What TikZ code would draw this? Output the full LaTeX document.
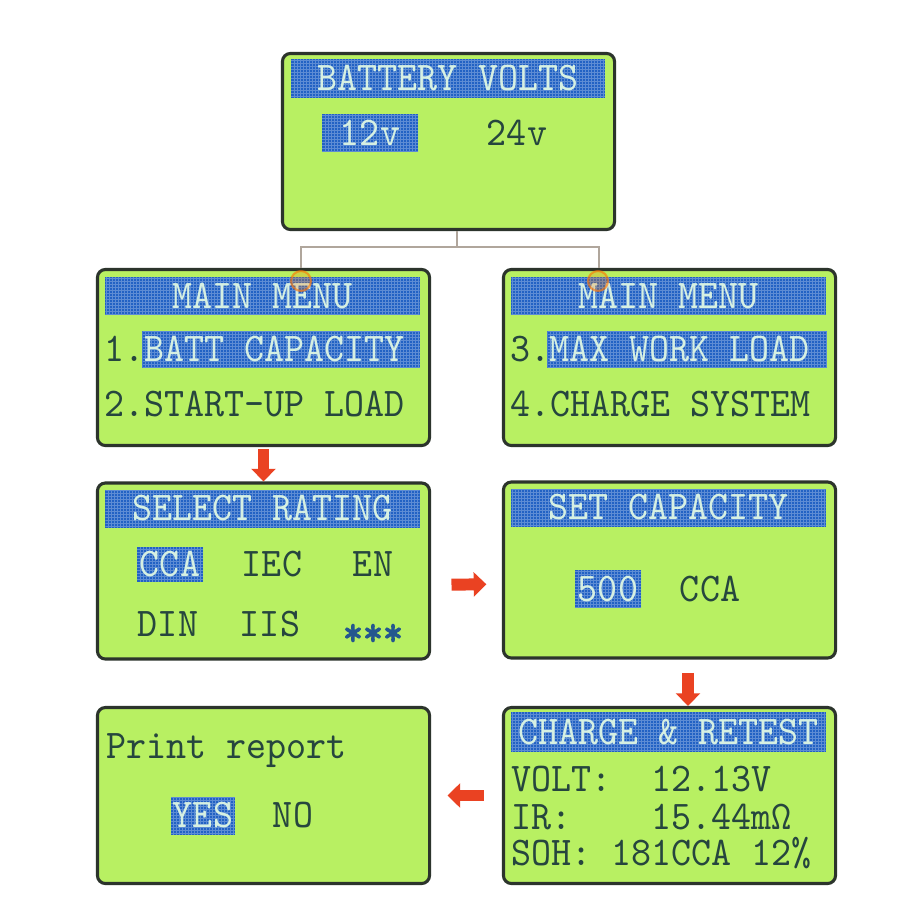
\documentclass[tikz,border=0pt]{standalone}
\usepackage{fontspec}
\usetikzlibrary{arrows.meta,positioning}
\newfontfamily\lcdfont[FakeStretch=0.935]{lmmono10-regular.otf}
\newfontfamily\lcdheavy[FakeStretch=0.935,FakeBold=2.5]{lmmono10-regular.otf}
\definecolor{lcdgreen}{RGB}{184,240,98}
\definecolor{lcdframe}{RGB}{44,52,44}
\definecolor{lcdblue}{RGB}{34,98,196}
\definecolor{lcdink}{RGB}{38,70,62}
\definecolor{lcdpale}{RGB}{214,240,226}
\definecolor{arrowred}{RGB}{234,66,34}
\definecolor{wiregray}{RGB}{176,166,156}
\begin{document}
\begin{tikzpicture}[
  x=0.025cm, y=-0.025cm,
  screen/.style={rectangle,draw=lcdframe,line width=2.2pt,fill=lcdgreen,rounded corners=0.2cm,minimum width=8.3cm,minimum height=4.4cm},
  lcd/.style={font=\fontsize{29}{29}\lcdfont,text=lcdink,inner sep=0pt,text height=0.6cm,text depth=0pt},
  hl/.style={lcd,text=lcdpale,fill=lcdblue,
    path picture={\draw[lcdblue!55!white,line width=0.25pt,opacity=.6,step=0.075cm] (path picture bounding box.south west) grid (path picture bounding box.north east);}},
  bar/.style={hl,minimum width=7.85cm,minimum height=0.95cm},
  redarr/.style={draw=arrowred,line width=8.5pt,-{Triangle[length=9pt,width=17pt]}},
  wire/.style={draw=wiregray,line width=1pt},
  ring/.style={circle,draw=orange!90!red,line width=1.5pt,draw opacity=.6,fill=orange,fill opacity=.25,minimum size=0.5cm}
]
\path[use as bounding box,fill=white] (0,0) rectangle (920,920);

\node[screen] (volts) at (448.5,141.5) {};
\node[bar] (voltsbar) at (448,78.5) {BATTERY VOLTS};
\node[hl,minimum width=2.4cm,minimum height=0.95cm] (v12) at (370,133) {12v};
\node[lcd] (v24) at (517,133) {24v};

\node[screen] (mm1) at (263.5,357.5) {};
\node[bar] (mm1bar) at (262.5,296) {MAIN MENU};
\node[lcd,anchor=west] (n1) at (104,349.5) {1.};
\node[hl,anchor=west,minimum height=0.9cm] (batt) at (142,349.5) {\makebox[6.95cm][l]{\hspace{0.05cm}BATT CAPACITY}};
\node[lcd,anchor=west] (n2) at (104,404.5) {2.START-UP LOAD};

\node[screen] (mm2) at (669.5,357.5) {};
\node[bar] (mm2bar) at (668.5,296) {MAIN MENU};
\node[lcd,anchor=west] (n3) at (510,349.5) {3.};
\node[hl,anchor=west,minimum height=0.9cm] (maxw) at (547,349.5) {\makebox[7cm][l]{\hspace{0.05cm}MAX WORK LOAD}};
\node[lcd,anchor=west] (n4) at (510,404.5) {4.CHARGE SYSTEM};

\node[screen] (rating) at (263.5,571) {};
\node[bar] (ratingbar) at (262.5,508.5) {SELECT RATING};
\node[hl,minimum width=1.65cm,minimum height=0.875cm] (cca) at (170,564.5) {CCA};
\node[lcd] (iec) at (272,564.5) {IEC};
\node[lcd] (en) at (373,564.5) {EN};
\node[lcd] (din) at (168,624.5) {DIN};
\node[lcd] (iis) at (270,624.5) {IIS};
\node[lcd,text=lcdblue!60!lcdink] (stars) at (373,624.5) {\raisebox{-0.22em}{\lcdheavy ***}};

\node[screen] (capacity) at (669.5,570) {};
\node[bar] (capbar) at (668.5,507.5) {SET CAPACITY};
\node[hl,minimum width=1.65cm,minimum height=0.95cm] (cap500) at (608,589) {500};
\node[lcd] (capcca) at (710,589) {CCA};

\node[screen] (report) at (263.5,795.5) {};
\node[lcd,anchor=west] (prt) at (106,746) {Print report};
\node[hl,minimum width=1.6cm,minimum height=0.95cm] (yes) at (203,815.5) {YES};
\node[lcd] (no) at (293,815.5) {NO};

\node[screen] (retest) at (669.5,795.5) {};
\node[bar,minimum height=1cm] (retestbar) at (668.5,732) {CHARGE \& RETEST};
\node[lcd,anchor=west] (volt) at (511,779.5) {VOLT:};
\node[lcd,anchor=west] (voltv) at (651,779.5) {12.13V};
\node[lcd,anchor=west] (ir) at (511,817) {IR:};
\node[lcd,anchor=west] (irv) at (651,817) {15.44mΩ};
\node[lcd,anchor=west] (soh) at (511,853) {SOH: 181CCA 12\%};

\coordinate (jL) at (301,247);
\coordinate (jR) at (599,247);
\draw[wire] ([xshift=0.21cm]volts.south) |- (jL) -- (jL |- mm1.north);
\draw[wire] (jL) -- (jR) -- (jR |- mm2.north);
\node[ring] (rL) at (301,281) {};
\node[ring] (rR) at (598,281) {};

\draw[redarr,shorten <=1.5pt] (mm1.south) -- (rating.north);
\draw[redarr,shorten <=0.51cm,shorten >=0.39cm] ([yshift=-0.35cm]rating.east) -- ([yshift=-0.35cm]capacity.west);
\draw[redarr,shorten <=0.33cm] ([xshift=0.4625cm]capacity.south) -- ([xshift=0.4625cm]retest.north);
\draw[redarr,shorten <=0.46cm,shorten >=0.41cm] (retest.west) -- (report.east);

\end{tikzpicture}
\end{document}
